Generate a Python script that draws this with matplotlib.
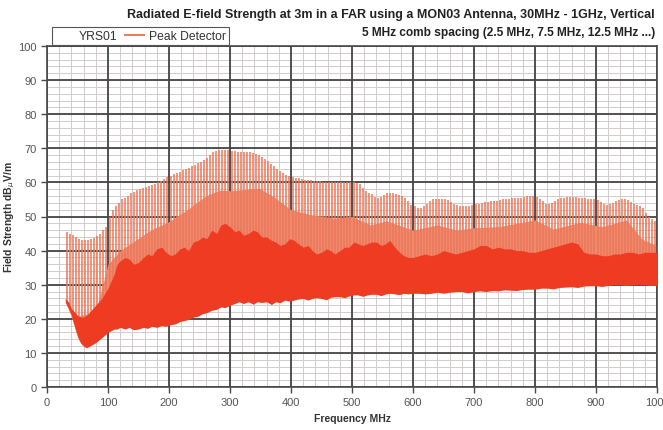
import numpy as np
import matplotlib
matplotlib.use("Agg")
import matplotlib.pyplot as plt
from matplotlib.lines import Line2D
from matplotlib.ticker import MultipleLocator

plt.rcParams['font.family'] = ['Liberation Sans', 'DejaVu Sans']

# comb lines every 5 MHz, starting at 32.5 MHz (peak level, dBuV/m)
comb_start = 32.5
comb_peak = [
    45.5, 45, 44.5, 44,
    43.5, 43.2, 43, 43, 43.3, 43.8, 44.3, 45, 46, 47,
    50, 52, 53, 54, 55, 55.5, 56, 56.8, 57.3, 57.8,
    58, 58.3, 58.6, 59, 59.3, 59.6, 60, 60.5, 61, 61.5,
    62, 62.4, 62.8, 63, 63.5, 64, 64.3, 64.7, 65.2, 65.7,
    66, 66.5, 67.2, 68, 68.8, 69.2, 69.4, 69.5, 69.5, 69.4,
    69.3, 69.2, 69, 69, 69, 68.9, 68.8, 68.6, 68.4, 68,
    67.5, 67, 66.3, 65.5, 64.8, 64, 63.3, 62.7, 62.2, 61.8,
    61.6, 61.4, 61.2, 61, 60.8, 60.7, 60.6, 60.5, 60.4, 60.3,
    60.2, 60.1, 60, 60, 60, 60, 60, 60, 60, 60,
    60, 59.8, 59.4, 58.5, 57.6, 57, 56.5, 55.8, 55.5, 55.8,
    56.3, 56.8, 57, 57, 56.7, 56.3, 56, 55.5, 54.5, 53.5,
    53, 52.6, 52.5, 53, 53.8, 54.5, 55, 55, 55, 55,
    55, 54.8, 54.2, 53.6, 53.3, 53.2, 53.1, 53.1, 53.2, 53.4,
    53.6, 53.8, 54, 54.2, 54.3, 54.4, 54.5, 54.6, 54.8, 55,
    55.1, 55.2, 55.3, 55.3, 55.4, 55.5, 55.7, 55.9, 56, 56,
    55.7, 55.2, 54.5, 53.8, 53.7, 54, 54.5, 55, 55.3, 55.5,
    55.6, 55.7, 55.7, 55.6, 55.5, 55.4, 55.3, 55.2, 55.1, 55,
    54.8, 54.2, 53.7, 53.5, 53.6, 54, 54.5, 54.9, 55.1, 55,
    54.7, 54.2, 53.7, 53.4, 53.2, 52.5, 51, 49.8, 49.2, 48.8,
]
comb_freq = comb_start + 5 * np.arange(len(comb_peak))

# middle (averaged) layer
mid_freq = [30, 80, 100, 120, 145, 170, 200, 230, 260, 280, 300, 330, 350, 370,
            400, 430, 470, 500, 530, 557, 600, 640, 672, 700, 740, 800, 830,
            875, 910, 950, 975, 1000]
mid_level = [20, 22, 36, 40, 43, 46, 48.5, 52, 56, 57.5, 57.5, 58, 58, 56,
             52, 50.6, 49.5, 50, 47.5, 48.7, 46, 47.5, 46, 46.7, 47, 49, 46.3,
             48.3, 47, 49, 43.4, 41.4]

# noise floor band (lower and upper edge of the dense trace)
band_freq = [30, 35, 40, 45, 50, 55, 60, 65, 70, 80, 90, 100, 105, 110, 115, 120,
             128, 135, 142, 150, 158, 165, 172, 180, 188, 195, 203, 210, 218, 225,
             232, 240, 248, 255, 262, 270, 278, 285, 292, 300, 308, 315, 322, 330,
             338, 345, 352, 360, 368, 375, 382, 390, 398, 405, 412, 420, 428, 435,
             442, 450, 458, 465, 472, 480, 488, 495, 503, 510, 518, 525, 532, 540,
             548, 555, 562, 570, 578, 585, 592, 600, 610, 620, 630, 640, 650, 660,
             670, 680, 690, 700, 710, 720, 730, 740, 750, 760, 770, 780, 790, 800,
             810, 820, 830, 840, 850, 860, 870, 880, 890, 900, 910, 920, 930, 940,
             950, 960, 970, 980, 990, 1000]
band_low = [25, 23, 21, 18, 15, 13, 12, 11.5, 12, 13, 14.5, 16, 16.5, 17, 17, 17.5,
            17, 17.5, 16.8, 17, 17.5, 17.2, 17.8, 17.5, 18, 17.8, 18.3, 18.5, 19.2, 19.5,
            19.8, 20.5, 20.8, 21.5, 21.8, 22.5, 22.8, 23.5, 23.3, 24, 24.5, 25, 24.5, 25,
            24.3, 25, 24.8, 25, 24.2, 25, 24.7, 25.5, 25.2, 25.5, 25.8, 26, 25.5, 26,
            26.2, 26, 25.6, 26.3, 26.5, 26.5, 26.2, 26.7, 27, 27, 26.6, 27, 27.2, 27.2,
            26.8, 27.3, 27.5, 27.3, 27.1, 27.5, 27.3, 27.5, 27.5, 27.3, 27.5, 27.8, 27.5, 27.8,
            28, 28, 27.6, 28, 28.2, 28, 28.3, 28.2, 28.5, 28.4, 28.3, 28.6, 28.7, 28.7,
            29, 29, 28.8, 29.2, 29.3, 29.4, 29.2, 29.6, 29.7, 29.7, 29.5, 29.8, 30, 30,
            29.8, 30, 30.2, 30, 29.8, 29.8]
band_high = [26, 25, 23, 22, 21, 20.5, 20.5, 21, 22, 24, 26, 29, 31, 33, 36, 37,
             38, 37.5, 36, 36.5, 38, 39, 38.5, 40.5, 41, 39.5, 38.5, 39, 40.5, 41,
             40, 42.5, 43, 44, 43.5, 46, 45, 47.5, 48, 47, 45.5, 46, 44.5, 45,
             46, 45.5, 44, 44, 43, 42.5, 41.5, 42, 43.5, 43, 42, 41, 41.5, 40,
             39, 39.5, 40.5, 40, 39, 40, 41, 41, 42.5, 42, 41.5, 42, 42.5, 42.5,
             41.5, 42, 43, 41, 39.5, 38.5, 38, 38, 38.5, 39, 38.5, 39, 40, 39.5,
             39, 39.5, 40, 40.5, 41.5, 41.5, 40.5, 41, 40.5, 40.5, 40, 40, 39.5, 39.5,
             40, 40.5, 41, 41.5, 42, 42.5, 42, 39.5, 39, 39, 38.5, 38.5, 39, 39,
             39.5, 39.5, 39, 39.5, 39.5, 39.5]

fig = plt.figure(figsize=(6.63, 4.31), dpi=100)
rect = [47 / 663, 43 / 431, 610 / 663, 341 / 431]

# background axes carries only the fine grid, so the bold grid sits above it
bg = fig.add_axes(rect, zorder=0)
bg.set_xlim(0, 1000)
bg.set_ylim(0, 100)
bg.xaxis.set_major_locator(MultipleLocator(20))
bg.yaxis.set_major_locator(MultipleLocator(2))
bg.grid(color='#d2cccc', lw=0.7)
bg.tick_params(length=0, labelbottom=False, labelleft=False)
for s in bg.spines.values():
    s.set_visible(False)

ax = fig.add_axes(rect, zorder=1)
ax.patch.set_alpha(0)

# region above the noise floor, used to clip the comb and middle layer
above = ax.fill_between(band_freq, band_low, 100, facecolor='none', edgecolor='none')
clip = above.get_paths()[0]

mid = ax.fill_between(mid_freq, 0, mid_level, color='#ef8a6e', lw=0, zorder=2)
mid.set_clip_path(clip, transform=ax.transData)

comb = ax.vlines(comb_freq, 0, comb_peak, colors='#ec7657', lw=1.1, zorder=3)
comb.set_clip_path(clip, transform=ax.transData)

ax.fill_between(band_freq, band_low, band_high, color='#ef3b22', lw=0, zorder=4)

ax.set_xlim(0, 1000)
ax.set_ylim(0, 100)
ax.xaxis.set_major_locator(MultipleLocator(100))
ax.yaxis.set_major_locator(MultipleLocator(10))
ax.grid(color='#454545', lw=1.3)
ax.set_axisbelow(True)
ax.tick_params(length=4, width=1, color='#4a4a4a', labelsize=8, labelcolor='#555555')
for s in ax.spines.values():
    s.set_color('#4a4a4a')
    s.set_linewidth(1.2)

ax.set_xlabel('Frequency MHz', fontsize=7.5, fontweight='bold', color='#333333')
ax.set_ylabel('Field Strength dB$_{\\mu}$V/m', fontsize=7.5, fontweight='bold',
              color='#333333')
ax.yaxis.set_label_coords(-0.049, 0.5)

fig.text(655 / 663, 1 - 15 / 431,
         'Radiated E-field Strength at 3m in a FAR using a MON03 Antenna, 30MHz - 1GHz, Vertical',
         ha='right', va='center', fontsize=9.0, fontweight='bold', color='#222222')
fig.text(655 / 663, 1 - 33 / 431,
         '5 MHz comb spacing (2.5 MHz, 7.5 MHz, 12.5 MHz ...)',
         ha='right', va='center', fontsize=8.6, fontweight='bold', color='#222222')

handles = [Line2D([], [], color='none'), Line2D([], [], color='#ee6a4c', lw=1.3)]
leg = ax.legend(handles, ['YRS01', 'Peak Detector'], ncol=2, loc='upper left',
                bbox_to_anchor=(0.008, 1.056), borderaxespad=0, fancybox=False,
                fontsize=8.7, handlelength=1.6, handletextpad=0.4, columnspacing=0.6,
                borderpad=0.25, framealpha=1)
leg.get_frame().set_edgecolor('#555555')
leg.get_frame().set_linewidth(0.8)
for t in leg.get_texts():
    t.set_color('#333333')

fig.savefig('out.png', dpi=100)
